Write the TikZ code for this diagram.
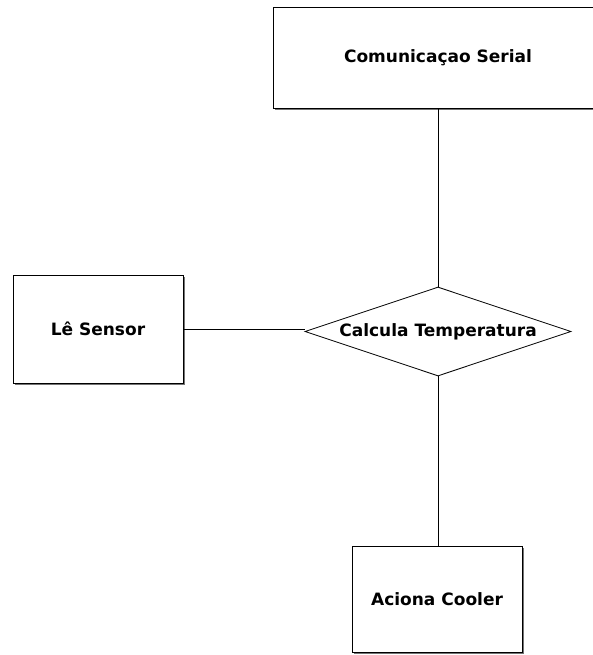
\documentclass[tikz,border=0pt]{standalone}
\usepackage{fontspec}
\setmainfont{DejaVu Sans}
\usetikzlibrary{shapes.geometric,shadows}

\tikzset{
  blockbox/.style={draw, thick, fill=white, font=\bfseries\fontsize{17}{20}\selectfont,
    drop shadow={shadow xshift=2pt, shadow yshift=-2pt, fill=black!55, opacity=1}},
  decisionbox/.style={diamond, draw, thick, fill=white, aspect=3, inner sep=0pt,
    font=\bfseries\fontsize{17}{20}\selectfont},
  wire/.style={draw, thick}
}

\begin{document}
\begin{tikzpicture}[x=1pt, y=-1pt]
\useasboundingbox (0,0) rectangle (592,655);

% Top block
\node[blockbox, minimum width=330pt, minimum height=101pt] (serial)
    at (438,57.5) {Comunicaçao Serial};

% Left block
\node[blockbox, minimum width=170pt, minimum height=108pt] (sensor)
    at (98,329) {Lê Sensor};

% Centre decision
\node[decisionbox, minimum width=266pt, minimum height=89pt] (calc)
    at (438,331.5) {Calcula Temperatura};

% Bottom block
\node[blockbox, minimum width=170pt, minimum height=106pt] (cooler)
    at (437,599) {Aciona Cooler};

% Links
\draw[wire] (serial.south -| calc.north) -- (calc.north);
\draw[wire] (sensor.east) -- (sensor.east -| calc.west);
\draw[wire] (calc.south) -- (calc.south |- cooler.north);

\end{tikzpicture}
\end{document}
